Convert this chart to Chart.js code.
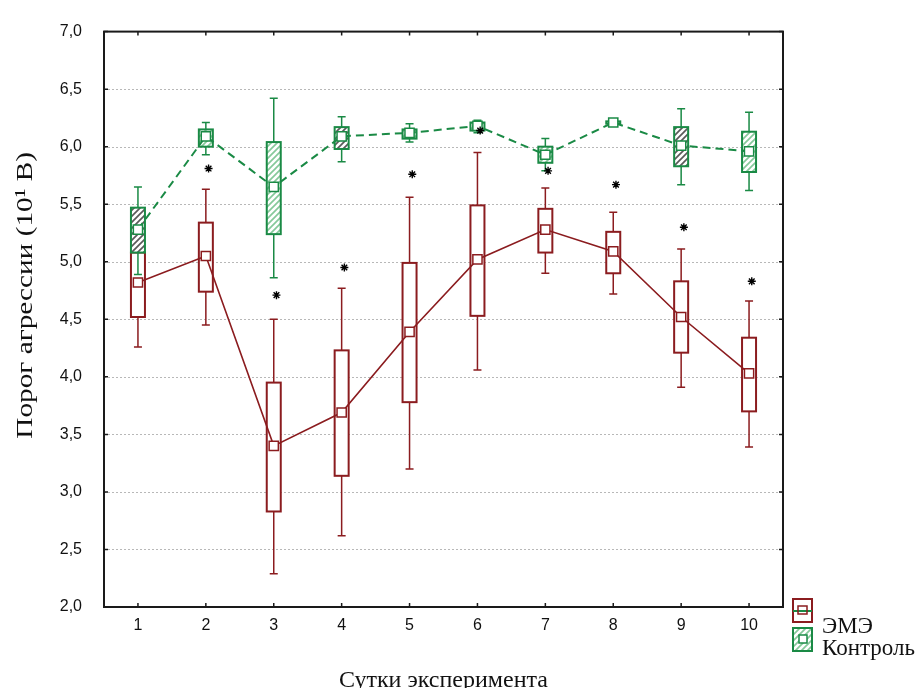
<!DOCTYPE html>
<html lang="ru">
<head>
<meta charset="UTF-8">
<title>Порог агрессии</title>
<script src="https://cdn.jsdelivr.net/npm/chart.js"></script>
<style>
  html, body { margin: 0; padding: 0; background: #fff; }
</style>
</head>
<body>
<canvas id="boxChart" width="921" height="688"></canvas>
<script>
// days of the experiment and y tick labels
var days = [1, 2, 3, 4, 5, 6, 7, 8, 9, 10];
var yTicks = [2.0, 2.5, 3.0, 3.5, 4.0, 4.5, 5.0, 5.5, 6.0, 6.5, 7.0];

// ЭМЭ: mean, box (low/high), whiskers (low/high)
var emeMean      = [4.82, 5.05, 3.40, 3.69, 4.39, 5.02, 5.28, 5.09, 4.52, 4.03];
var emeBoxLow    = [4.52, 4.74, 2.83, 3.14, 3.78, 4.53, 5.08, 4.90, 4.21, 3.70];
var emeBoxHigh   = [5.08, 5.34, 3.95, 4.23, 4.99, 5.49, 5.46, 5.26, 4.83, 4.34];
var emeWhiskLow  = [4.26, 4.45, 2.29, 2.62, 3.20, 4.06, 4.90, 4.72, 3.91, 3.39];
var emeWhiskHigh = [5.25, 5.63, 4.50, 4.77, 5.56, 5.95, 5.64, 5.43, 5.11, 4.66];

// Контроль
var ctrlMean      = [5.28, 6.09, 5.65, 6.09, 6.12, 6.18, 5.93, 6.21, 6.01, 5.96];
var ctrlBoxLow    = [5.08, 6.00, 5.24, 5.98, 6.07, 6.14, 5.86, 6.20, 5.83, 5.78];
var ctrlBoxHigh   = [5.47, 6.15, 6.04, 6.17, 6.15, 6.21, 6.00, 6.22, 6.17, 6.13];
var ctrlWhiskLow  = [4.89, 5.93, 4.86, 5.87, 6.04, 6.12, 5.79, 6.20, 5.67, 5.62];
var ctrlWhiskHigh = [5.65, 6.21, 6.42, 6.26, 6.20, 6.23, 6.07, 6.22, 6.33, 6.30];

// significance marks (* above ЭМЭ), null = none
var starY = [null, 5.81, 4.71, 4.95, 5.76, 6.14, 5.79, 5.67, 5.30, 4.83];

// styles
var red = '#8b1c1f';
var green = '#1a8a45';
var ctrlShade = ['gray', 'green', 'green', 'gray', 'green', 'green', 'green', 'green', 'gray', 'green'];
var starShift = 0.04;

var canvas = document.getElementById('boxChart');
var ctx = canvas.getContext('2d');

function makeHatch(line) {
    var c = document.createElement('canvas');
    c.width = 6; c.height = 6;
    var g = c.getContext('2d');
    g.fillStyle = '#fff';
    g.fillRect(0, 0, 6, 6);
    g.strokeStyle = line;
    g.lineWidth = 1.7;
    g.beginPath();
    g.moveTo(0, 6); g.lineTo(6, 0);
    g.moveTo(-3, 3); g.lineTo(3, -3);
    g.moveTo(3, 9); g.lineTo(9, 3);
    g.stroke();
    return ctx.createPattern(c, 'repeat');
}
var hatches = { green: makeHatch('#86c99a'), gray: makeHatch('#5a5a5a') };

function drawBoxes(c, xs, ys, wLo, bLo, bHi, wHi, color, shade) {
    days.forEach(function (d, i) {
        var x = xs.getPixelForValue(d);
        var half = 7, cap = 4;
        var yWL = ys.getPixelForValue(wLo[i]);
        var yWH = ys.getPixelForValue(wHi[i]);
        var yBL = ys.getPixelForValue(bLo[i]);
        var yBH = ys.getPixelForValue(bHi[i]);
        c.save();
        c.strokeStyle = color;
        c.lineWidth = 1.5;
        c.beginPath();
        c.moveTo(x, yWH); c.lineTo(x, yBH);
        c.moveTo(x, yBL); c.lineTo(x, yWL);
        c.moveTo(x - cap, yWH); c.lineTo(x + cap, yWH);
        c.moveTo(x - cap, yWL); c.lineTo(x + cap, yWL);
        c.stroke();
        c.fillStyle = shade ? hatches[shade[i]] : '#fff';
        c.fillRect(x - half, yBH, 2 * half, yBL - yBH);
        c.lineWidth = 2;
        c.strokeRect(x - half, yBH, 2 * half, yBL - yBH);
        c.restore();
    });
}

var boxPlugin = {
    id: 'boxes',
    beforeDatasetsDraw: function (chart) {
        var c = chart.ctx, xs = chart.scales.x, ys = chart.scales.y, a = chart.chartArea;
        c.save();
        c.strokeStyle = '#b8b8b8';
        c.lineWidth = 1;
        c.setLineDash([2, 2]);
        yTicks.forEach(function (v) {
            if (v <= 2 || v >= 7) return;
            var y = Math.round(ys.getPixelForValue(v)) + 0.5;
            c.beginPath(); c.moveTo(a.left, y); c.lineTo(a.right, y); c.stroke();
        });
        c.restore();
        drawBoxes(c, xs, ys, emeWhiskLow, emeBoxLow, emeBoxHigh, emeWhiskHigh, red, null);
        drawBoxes(c, xs, ys, ctrlWhiskLow, ctrlBoxLow, ctrlBoxHigh, ctrlWhiskHigh, green, ctrlShade);
    },
    afterDraw: function (chart) {
        var c = chart.ctx, xs = chart.scales.x, ys = chart.scales.y, a = chart.chartArea;
        c.save();
        // frame and inward ticks
        c.strokeStyle = '#1a1a1a';
        c.lineWidth = 2;
        c.strokeRect(a.left, a.top, a.right - a.left, a.bottom - a.top);
        c.lineWidth = 1.5;
        c.beginPath();
        days.forEach(function (d) {
            var x = xs.getPixelForValue(d);
            c.moveTo(x, a.bottom); c.lineTo(x, a.bottom - 4);
            c.moveTo(x, a.top); c.lineTo(x, a.top + 4);
        });
        yTicks.forEach(function (v) {
            var y = ys.getPixelForValue(v);
            c.moveTo(a.left, y); c.lineTo(a.left + 4, y);
            c.moveTo(a.right, y); c.lineTo(a.right - 4, y);
        });
        c.stroke();

        // axis titles
        c.fillStyle = '#111';
        c.font = "24px 'Liberation Serif'";
        c.textAlign = 'center';
        c.textBaseline = 'alphabetic';
        c.fillText('Сутки эксперимента', (a.left + a.right) / 2, 687);
        c.save();
        c.translate(32, (a.top + a.bottom) / 2 - 24);
        c.rotate(-Math.PI / 2);
        c.scale(1.22, 1);
        c.fillText('Порог агрессии (10¹ В)', 0, 0);
        c.restore();

        // legend
        var lx = a.right + 10, ly = a.bottom - 8;
        c.strokeStyle = red;
        c.lineWidth = 2;
        c.fillStyle = '#fff';
        c.fillRect(lx, ly, 19, 23);
        c.strokeRect(lx, ly, 19, 23);
        c.strokeStyle = green;
        c.beginPath(); c.moveTo(lx, ly + 12); c.lineTo(lx + 19, ly + 12); c.stroke();
        c.strokeStyle = red;
        c.lineWidth = 1.5;
        c.strokeRect(lx + 5, ly + 7, 9, 8);

        var ly2 = ly + 29;
        c.fillStyle = hatches.green;
        c.fillRect(lx, ly2, 19, 23);
        c.strokeStyle = green;
        c.lineWidth = 2;
        c.strokeRect(lx, ly2, 19, 23);
        c.fillStyle = '#fff';
        c.fillRect(lx + 6, ly2 + 7, 8, 8);
        c.lineWidth = 1.5;
        c.strokeRect(lx + 6, ly2 + 7, 8, 8);

        c.fillStyle = '#111';
        c.font = "23px 'Liberation Serif'";
        c.textAlign = 'left';
        c.fillText('ЭМЭ', lx + 29, ly + 34);
        c.fillText('Контроль', lx + 29, ly + 56);
        c.restore();
    }
};

var starPoints = [];
days.forEach(function (d, i) {
    if (starY[i] !== null) starPoints.push({ x: d + starShift, y: starY[i] });
});

var chart = new Chart(ctx, {
    type: 'line',
    data: {
        datasets: [{
            label: '*',
            data: starPoints,
            showLine: false,
            pointStyle: 'star',
            pointRadius: 4,
            pointBorderColor: '#000',
            pointBorderWidth: 1.4
        }, {
            label: 'ЭМЭ',
            data: days.map(function (d, i) { return { x: d, y: emeMean[i] }; }),
            borderColor: red,
            borderWidth: 1.6,
            tension: 0,
            pointStyle: 'rect',
            pointRadius: 6.5,
            pointBackgroundColor: '#fff',
            pointBorderColor: red,
            pointBorderWidth: 1.5
        }, {
            label: 'Контроль',
            data: days.map(function (d, i) { return { x: d, y: ctrlMean[i] }; }),
            borderColor: green,
            borderWidth: 2,
            borderDash: [8, 5],
            tension: 0,
            pointStyle: 'rect',
            pointRadius: 6.5,
            pointBackgroundColor: '#fff',
            pointBorderColor: green,
            pointBorderWidth: 1.5
        }]
    },
    options: {
        responsive: false,
        animation: false,
        layout: { padding: { top: 16, right: 138, bottom: 0, left: 0 } },
        plugins: { legend: { display: false }, tooltip: { enabled: false } },
        scales: {
            x: {
                type: 'linear',
                min: 0.5,
                max: 10.5,
                afterBuildTicks: function (s) { s.ticks = days.map(function (v) { return { value: v }; }); },
                afterFit: function (s) { s.height = 81; },
                grid: { display: false, drawTicks: false },
                border: { display: false },
                ticks: {
                    color: '#111',
                    padding: 9,
                    autoSkip: false,
                    maxRotation: 0,
                    font: { family: 'Liberation Sans', size: 16 }
                }
            },
            y: {
                type: 'linear',
                min: 2,
                max: 7,
                afterBuildTicks: function (s) { s.ticks = yTicks.map(function (v) { return { value: v }; }); },
                afterFit: function (s) { s.width = 104; },
                grid: { display: false, drawTicks: false },
                border: { display: false },
                ticks: {
                    color: '#111',
                    padding: 22,
                    font: { family: 'Liberation Sans', size: 16 },
                    callback: function (v) { return v.toFixed(1).replace('.', ','); }
                }
            }
        }
    },
    plugins: [boxPlugin]
});
</script>
</body>
</html>
